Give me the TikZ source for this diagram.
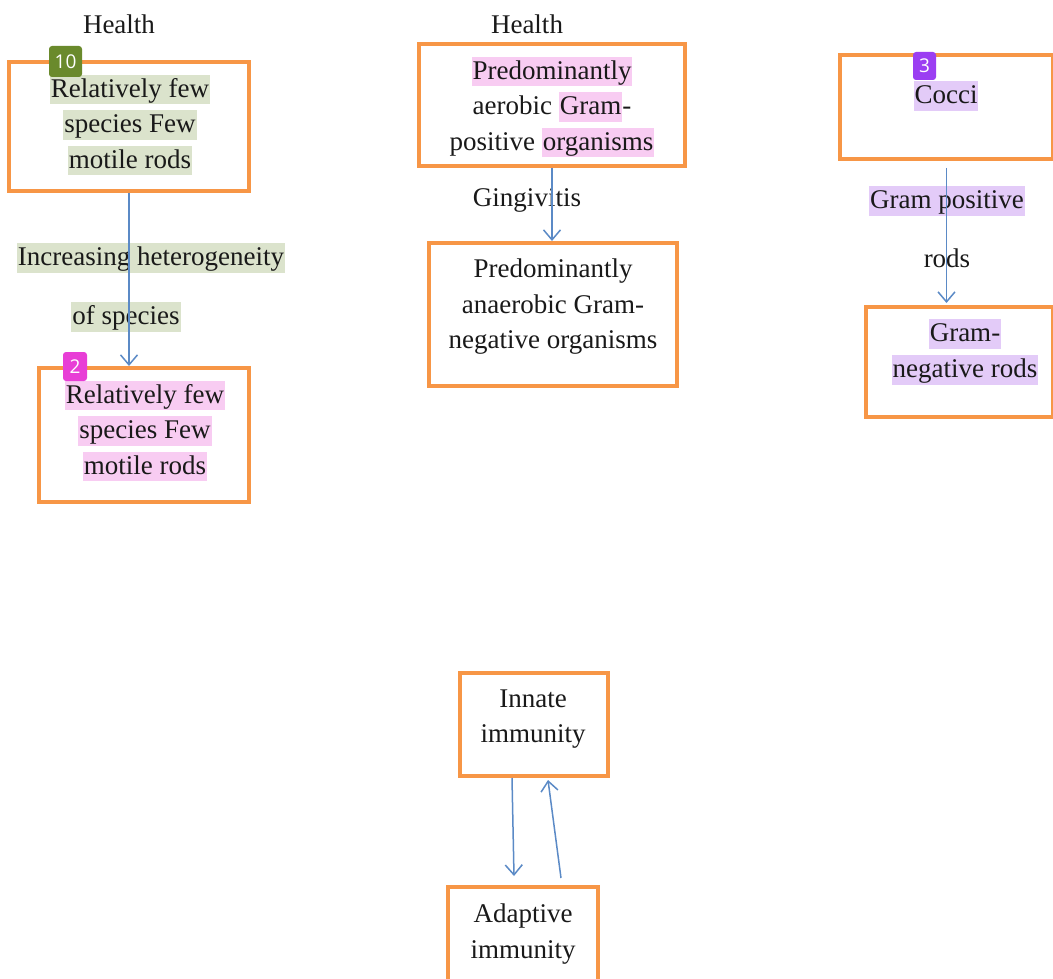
\documentclass[tikz,border=0pt]{standalone}
\usepackage{fontspec}
\setmainfont{Liberation Serif}
\newfontfamily\badgefont{Open Sans}
\usetikzlibrary{arrows.meta}
\definecolor{boxorange}{HTML}{F79646}
\definecolor{arrblue}{HTML}{5B8AC6}
\definecolor{hlgreen}{HTML}{DBE3CC}
\definecolor{bdgreen}{HTML}{6A8A2C}
\definecolor{hlpink}{HTML}{F8CCF2}
\definecolor{bdpink}{HTML}{E83ED6}
\definecolor{hlpurple}{HTML}{E3CBF8}
\definecolor{bdpurple}{HTML}{9B3EF2}
\newcommand\hlt[2]{{\setlength\fboxsep{0pt}\colorbox{#1}{\rule[-0.27em]{0pt}{1.1em}\kern1pt #2\kern1pt}}}
\tikzset{
  box/.style={draw=boxorange, line width=4pt, rectangle, inner sep=0pt},
  txt/.style={font=\fontsize{27}{35.5}\selectfont, align=center, inner sep=0pt, text=black!90},
  badge/.style={rounded corners=3pt, inner sep=0pt, text=white, font=\badgefont\fontsize{19}{22}\selectfont},
  arr/.style={draw=arrblue, line width=1.5pt, -{Straight Barb[length=10pt,width=17pt,line width=1.5pt]}}
}
\begin{document}
\begin{tikzpicture}[x=1pt,y=-1pt]
\useasboundingbox (0,0) rectangle (1053,979);
\clip (0,0) rectangle (1053,979);
% boxes
\node[box, minimum width=240pt, minimum height=129pt] (A1) at (129,126.5) {};
\node[box, minimum width=210pt, minimum height=134pt] (A2) at (144,435) {};
\node[box, minimum width=266pt, minimum height=122pt] (B1) at (552,105) {};
\node[box, minimum width=248pt, minimum height=143pt] (B2) at (553,314.5) {};
\node[box, minimum width=213pt, minimum height=104pt] (C1) at (946.5,107) {};
\node[box, minimum width=187pt, minimum height=110pt] (C2) at (959.5,362) {};
\node[box, minimum width=148pt, minimum height=103pt] (D1) at (534,724.5) {};
\node[box, minimum width=150pt, minimum height=100pt] (D2) at (523,937) {};
% titles
\node[txt] (hA) at (119,24) {Health};
\node[txt] (hB) at (527,24) {Health};
% texts
\node[txt] (tA1) at (130,125) {\hlt{hlgreen}{Relatively few}\\\hlt{hlgreen}{species Few}\\\hlt{hlgreen}{motile rods}};
\node[txt] (tA2) at (145,431) {\hlt{hlpink}{Relatively few}\\\hlt{hlpink}{species Few}\\\hlt{hlpink}{motile rods}};
\node[txt] (lA1) at (151,258) {\hlt{hlgreen}{Increasing heterogeneity}};
\node[txt] (lA2) at (126,317) {\hlt{hlgreen}{of species}};
\node[txt] (tB1) at (552,107) {\hlt{hlpink}{Predominantly}\\aerobic \hlt{hlpink}{Gram}-\\positive \hlt{hlpink}{organisms}};
\node[txt] (lB) at (527,200) {Gingivitis};
\node[txt] (tB2) at (553,307) {Predominantly\\anaerobic Gram-\\negative organisms};
\node[txt] (tC1) at (946,96) {\hlt{hlpurple}{Cocci}};
\node[txt] (lC1) at (947,201) {\hlt{hlpurple}{Gram positive}};
\node[txt] (lC2) at (947,258) {rods};
\node[txt] (tC2) at (965,352) {\hlt{hlpurple}{Gram-}\\\hlt{hlpurple}{negative rods}};
\node[txt] (tD1) at (533,719) {Innate\\immunity};
\node[txt] (tD2) at (523,934) {Adaptive\\immunity};
% badges
\node[badge, fill=bdgreen, minimum width=33pt, minimum height=31pt] (b10) at (65.5,61.5) {10};
\node[badge, fill=bdpink, minimum width=24pt, minimum height=29pt] (b2) at (75,366.5) {2};
\node[badge, fill=bdpurple, minimum width=23pt, minimum height=28pt] (b3) at (924.5,66) {3};
% arrows
\draw[arr] (A1.south) -- (A1.south |- A2.north);
\draw[arr] (B1.south) -- (B1.south |- B2.north);
\draw[arr] ([yshift=-7pt]C1.south) -- ([yshift=2pt]C1.south |- C2.north);
\draw[arr] ([xshift=-22pt]D1.south) -- ([xshift=-9pt,yshift=9pt]D2.north);
\draw[arr] ([xshift=38pt,yshift=7pt]D2.north) -- ([xshift=14pt,yshift=-2pt]D1.south);
\end{tikzpicture}
\end{document}
